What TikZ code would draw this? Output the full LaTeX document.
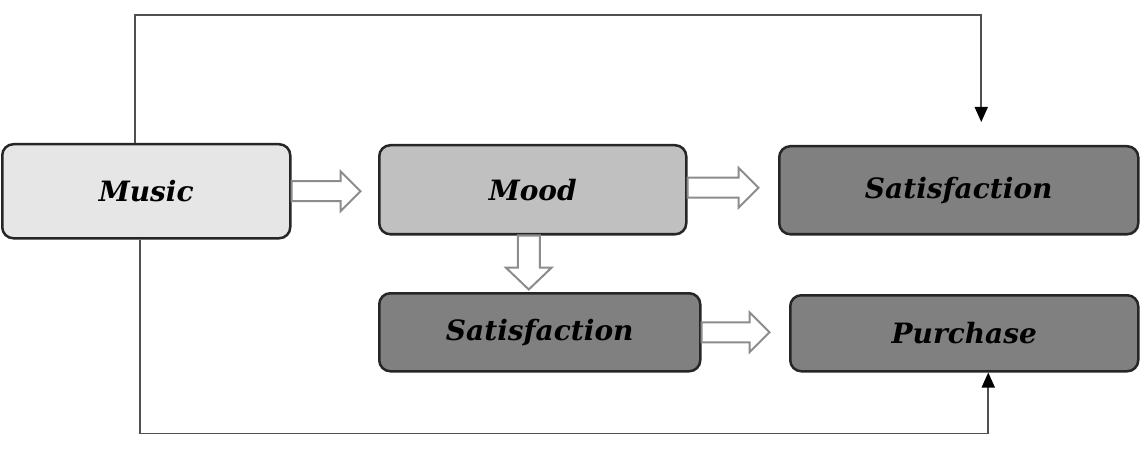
\documentclass[tikz,border=0pt]{standalone}
\usepackage{fontspec}
\setmainfont{DejaVu Serif}
\usetikzlibrary{calc,arrows.meta}
\definecolor{musicfill}{HTML}{E6E6E6}
\definecolor{moodfill}{HTML}{C0C0C0}
\definecolor{darkfill}{HTML}{808080}
\definecolor{arrgray}{HTML}{8C8C8C}
\definecolor{linegray}{HTML}{505050}
\tikzset{
  box/.style={draw=black!85, line width=2.5pt, rounded corners=11pt, anchor=north west,
    font=\fontsize{28}{32}\selectfont\bfseries\itshape, inner sep=0pt},
  openarrow/.style={draw=arrgray, fill=white, line width=2pt, line join=miter},
  conn/.style={draw=linegray, line width=1.6pt, -{Triangle[width=13pt,length=15pt,color=black]}},
}
\newcommand{\harrow}[2]{%
  \draw[openarrow] #1 ++(0,-10) -- ++(#2-20,0) -- ++(0,-10) -- ++(20,20) -- ++(-20,20) -- ++(0,-10) -- ++(-#2+20,0) -- cycle;}
\newcommand{\varrow}[2]{%
  \draw[openarrow] #1 ++(-11,0) -- ++(0,#2-22) -- ++(-12,0) -- ++(23,22) -- ++(23,-22) -- ++(-12,0) -- ++(0,-#2+22) -- cycle;}
\begin{document}
\begin{tikzpicture}[x=1pt,y=-1pt]
\useasboundingbox (0,0) rectangle (1147,454);
\node[box, fill=musicfill, minimum width=288pt, minimum height=94pt] (music) at (1,143) {Music};
\node[box, fill=moodfill, minimum width=307pt, minimum height=89pt] (mood) at (378,144) {Mood};
\node[box, fill=darkfill, minimum width=359pt, minimum height=88pt] (sat1) at (778,145) {Satisfaction};
\node[box, fill=darkfill, minimum width=321pt, minimum height=78pt] (sat2) at (378,292) {Satisfaction};
\node[box, fill=darkfill, minimum width=348pt, minimum height=76pt] (purch) at (789,294) {Purchase};
\harrow{(music.east)}{69}
\harrow{($(mood.east)+(0,-2)$)}{71}
\harrow{(sat2.east)}{68}
\varrow{($(mood.south)+(-4,0)$)}{54}
\coordinate (topend) at ($(sat1.north)+(22.5,-23)$);
\coordinate (botend) at ($(purch.south)+(24,0)$);
\draw[conn] ($(music.north)+(-11,0)$) -- ++(0,-128) -| (topend);
\draw[conn] ($(music.south)+(-6,0)$) -- ++(0,194) -| (botend);
\end{tikzpicture}
\end{document}
